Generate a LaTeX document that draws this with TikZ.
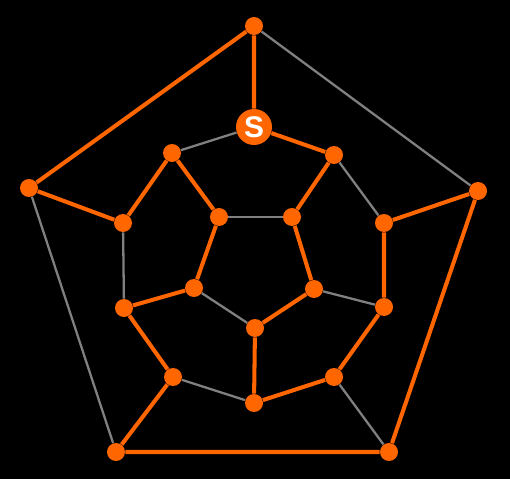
\documentclass[tikz,border=0pt]{standalone}
\usepackage{fontspec}
\setmainfont{Liberation Sans}
\definecolor{hamorange}{HTML}{FF6600}
\definecolor{edgegray}{HTML}{808080}
\tikzset{
  vertex/.style={circle,fill=hamorange,inner sep=0pt,minimum size=0.36cm},
  start/.style={circle,fill=hamorange,inner sep=0pt,minimum size=0.72cm,text=white,font=\fontsize{17}{17}\selectfont\bfseries},
  plain/.style={edgegray,line width=1.3pt},
  tour/.style={hamorange,line width=2.3pt}
}
\begin{document}
\begin{tikzpicture}[x=0.02cm,y=-0.02cm]
\fill[black] (0,0) rectangle (510,479);
\useasboundingbox (0,0) rectangle (510,479);
% outer pentagon
\node[vertex] (T) at (254,26) {};
\node[vertex] (L) at (29,188) {};
\node[vertex] (R) at (478,191) {};
\node[vertex] (BL) at (116,452) {};
\node[vertex] (BR) at (389,452) {};
% middle ring
\node[start] (S) at (254,127) {S};
\node[vertex] (M1) at (334,155) {};
\node[vertex] (M2) at (384,223) {};
\node[vertex] (M3) at (384,307) {};
\node[vertex] (M4) at (334,377) {};
\node[vertex] (M5) at (254,403) {};
\node[vertex] (M6) at (173,377) {};
\node[vertex] (M7) at (124,308) {};
\node[vertex] (M8) at (123,223) {};
\node[vertex] (M9) at (172,153) {};
% inner pentagon
\node[vertex] (I1) at (219,217) {};
\node[vertex] (I2) at (292,217) {};
\node[vertex] (I3) at (314,289) {};
\node[vertex] (I4) at (255,328) {};
\node[vertex] (I5) at (194,288) {};

% unused edges
\draw[plain] (T) -- (R);
\draw[plain] (L) -- (BL);
\draw[plain] (BR) -- (M4);
\draw[plain] (M1) -- (M2);
\draw[plain] (M5) -- (M6);
\draw[plain] (M7) -- (M8);
\draw[plain] (M9) -- (S);
\draw[plain] (M3) -- (I3);
\draw[plain] (I1) -- (I2);
\draw[plain] (I4) -- (I5);
% hamiltonian cycle
\draw[tour] (T) -- (S) -- (M1) -- (I2) -- (I3) -- (I4) -- (M5) -- (M4) -- (M3)
  -- (M2) -- (R) -- (BR) -- (BL) -- (M6) -- (M7) -- (I5) -- (I1) -- (M9)
  -- (M8) -- (L) -- (T);
\end{tikzpicture}
\end{document}
